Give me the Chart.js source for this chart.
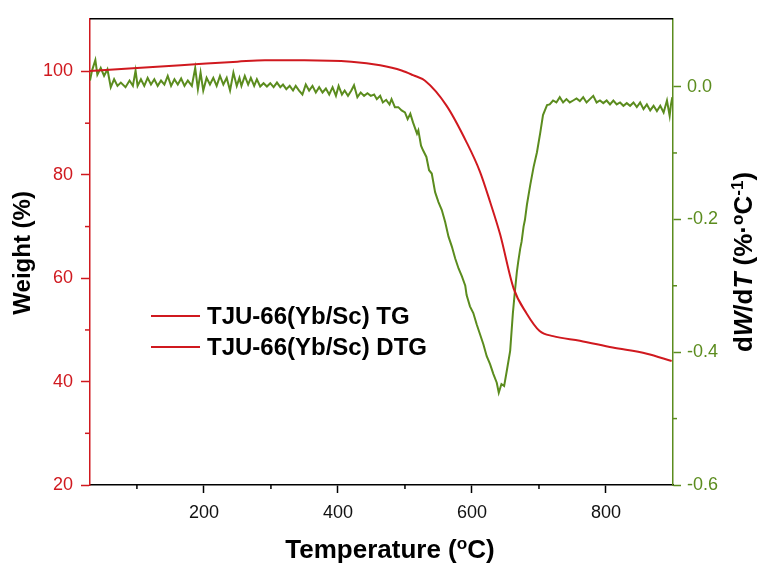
<!DOCTYPE html>
<html>
<head>
<meta charset="utf-8">
<script src="https://cdn.jsdelivr.net/npm/chart.js@4.4.1/dist/chart.umd.min.js"></script>
<style>
  html, body { margin: 0; padding: 0; background: #fff; }
</style>
</head>
<body>
<canvas id="myChart" width="759" height="565"></canvas>
<script>
// TG curve (weight %, left axis)
var tgTemp = [30, 100, 187, 250, 291, 350, 420, 463, 495, 512, 530, 562, 592, 612, 627, 642, 662, 682, 701, 721, 761, 810, 861, 898];
var tgWeight = [100.1, 100.7, 101.4, 101.9, 102.2, 102.2, 101.9, 101.2, 100.2, 99.3, 98.2, 93.4, 86.3, 80.6, 74.8, 68.5, 58.1, 53.1, 49.8, 48.8, 47.9, 46.6, 45.4, 44.0];

// DTG curve (dW/dT, right axis)
var dtgTemp = [
  30, 33, 38, 41, 46, 51, 56, 61, 66, 71,
  76, 83, 89, 94, 98, 101, 106, 111, 116, 121,
  126, 131, 136, 141, 146, 151, 156, 161, 166, 171,
  176, 182, 187, 191, 195, 199, 204, 209, 214, 219,
  224, 229, 234, 239, 244, 249, 253, 256, 261, 266,
  270, 275, 279, 284, 289, 294, 299, 304, 309, 314,
  318, 323, 328, 333, 337, 342, 347, 352, 357, 362,
  367, 372, 377, 382, 387, 392, 397, 401, 406, 410,
  415, 420, 424, 429, 434, 439, 444, 449, 454, 458,
  463, 467, 472, 477, 480, 485, 490, 495, 500, 504,
  508, 512, 518, 520, 524, 527, 532, 536, 540, 545,
  550, 555, 560, 565, 570, 575, 580, 585, 590, 592,
  597, 602, 607, 612, 617, 622, 627, 632, 637, 640,
  644, 648, 652, 657, 661, 664, 667, 669, 672, 674,
  677, 679, 682, 687, 692, 697, 702, 706, 712, 716,
  721, 726, 731, 736, 741, 746, 751, 756, 761, 766,
  771, 776, 781, 786, 791, 796, 801, 806, 811, 816,
  821, 826, 831, 836, 841, 846, 851, 856, 861, 866,
  871, 876, 881, 886, 891, 895, 897, 899
];
var dtgRate = [
  0.009, 0.024, 0.040, 0.018, 0.028, 0.016, 0.026, -0.001, 0.011, 0.001,
  0.006, -0.001, 0.009, 0.001, 0.024, 0.001, 0.011, 0.001, 0.013, 0.003,
  0.011, 0.001, 0.009, 0.003, 0.016, 0.001, 0.011, 0.003, 0.012, 0.001,
  0.009, 0.001, 0.028, -0.004, 0.021, -0.006, 0.013, 0.003, 0.013, 0.001,
  0.016, 0.003, 0.013, -0.006, 0.021, 0.001, 0.013, 0.001, 0.016, 0.003,
  0.013, 0.001, 0.011, 0.000, 0.005, 0.000, 0.005, -0.001, 0.006, -0.001,
  0.003, -0.004, 0.001, -0.006, 0.001, -0.006, -0.012, 0.003, -0.006, 0.001,
  -0.009, -0.001, -0.009, -0.003, -0.012, -0.001, -0.014, 0.001, -0.012, -0.006,
  -0.014, -0.006, 0.002, -0.016, -0.009, -0.014, -0.010, -0.014, -0.012, -0.019,
  -0.014, -0.024, -0.020, -0.027, -0.019, -0.031, -0.031, -0.036, -0.039, -0.049,
  -0.041, -0.054, -0.071, -0.066, -0.089, -0.096, -0.106, -0.126, -0.131, -0.159,
  -0.174, -0.186, -0.204, -0.226, -0.241, -0.259, -0.274, -0.286, -0.300, -0.314,
  -0.331, -0.341, -0.358, -0.373, -0.388, -0.406, -0.418, -0.433, -0.446, -0.461,
  -0.448, -0.451, -0.428, -0.398, -0.342, -0.309, -0.279, -0.264, -0.244, -0.234,
  -0.211, -0.201, -0.178, -0.148, -0.121, -0.099, -0.069, -0.043, -0.028, -0.027,
  -0.021, -0.024, -0.016, -0.024, -0.019, -0.024, -0.021, -0.018, -0.022, -0.016,
  -0.024, -0.019, -0.014, -0.024, -0.021, -0.025, -0.021, -0.027, -0.021, -0.027,
  -0.024, -0.029, -0.025, -0.029, -0.024, -0.031, -0.024, -0.034, -0.027, -0.036,
  -0.029, -0.037, -0.029, -0.039, -0.021, -0.044, -0.027, -0.016
];

// tick positions
var tempTicks = [200, 400, 600, 800];
var tempMinor = [100, 300, 500, 700];
var weightTicks = [20, 40, 60, 80, 100];
var weightMinor = [30, 50, 70, 90];
var dtgTicks = [-0.6, -0.4, -0.2, 0.0];
var dtgMinor = [-0.5, -0.3, -0.1];

var seriesNames = ['TJU-66(Yb/Sc) TG', 'TJU-66(Yb/Sc) DTG'];

var red = '#d0191f';
var green = '#5b8c1e';
var font = '"Liberation Sans", Arial, sans-serif';

function useTicks(values) {
  return function (scale) {
    scale.ticks = values.map(function (v) { return { value: v }; });
  };
}

function tick(ctx, x1, y1, x2, y2) {
  ctx.beginPath();
  ctx.moveTo(x1, y1);
  ctx.lineTo(x2, y2);
  ctx.stroke();
}

// short ticks between the labelled ones, plus the top frame line
var frame = {
  id: 'frame',
  afterDraw: function (chart) {
    var ctx = chart.ctx, a = chart.chartArea, s = chart.scales;
    ctx.save();
    ctx.lineWidth = 1.5;
    ctx.strokeStyle = '#000';
    tick(ctx, a.left, a.top, a.right, a.top);
    tempMinor.forEach(function (v) {
      var x = s.x.getPixelForValue(v);
      tick(ctx, x, a.bottom, x, a.bottom + 4);
    });
    ctx.strokeStyle = red;
    weightMinor.forEach(function (v) {
      var y = s.y.getPixelForValue(v);
      tick(ctx, a.left, y, a.left - 5, y);
    });
    ctx.strokeStyle = green;
    dtgMinor.forEach(function (v) {
      var y = s.y2.getPixelForValue(v);
      tick(ctx, a.right, y, a.right + 4, y);
    });
    ctx.restore();
  }
};

// text made of pieces: italic letters and superscripts
function drawPieces(ctx, pieces, size, cx, cy) {
  var total = 0;
  pieces.forEach(function (p) {
    ctx.font = (p.it ? 'italic ' : '') + 'bold ' + (p.sup ? size * 0.66 : size) + 'px ' + font;
    p.w = ctx.measureText(p.t).width;
    total += p.w;
  });
  var x = cx - total / 2;
  pieces.forEach(function (p) {
    ctx.font = (p.it ? 'italic ' : '') + 'bold ' + (p.sup ? size * 0.66 : size) + 'px ' + font;
    ctx.fillText(p.t, x, p.sup ? cy - size * 0.36 : cy);
    x += p.w;
  });
}

var titles = {
  id: 'titles',
  afterDraw: function (chart) {
    var ctx = chart.ctx, a = chart.chartArea;
    ctx.save();
    ctx.fillStyle = '#000';
    ctx.textAlign = 'left';
    ctx.textBaseline = 'alphabetic';

    drawPieces(ctx, [{ t: 'Temperature (' }, { t: 'o', sup: true }, { t: 'C)' }], 26, 390, 558);

    ctx.save();
    ctx.translate(30, (a.top + a.bottom) / 2 + 1);
    ctx.rotate(-Math.PI / 2);
    drawPieces(ctx, [{ t: 'Weight (%)' }], 24, 0, 0);
    ctx.restore();

    ctx.save();
    ctx.translate(752, 262);
    ctx.rotate(-Math.PI / 2);
    drawPieces(ctx, [
      { t: 'd' }, { t: 'W', it: true }, { t: '/d' }, { t: 'T', it: true },
      { t: ' (%\u00b7' }, { t: 'o', sup: true }, { t: 'C' }, { t: '-1', sup: true }, { t: ')' }
    ], 26, 0, 0);
    ctx.restore();

    // legend
    ctx.font = 'bold 24px ' + font;
    ctx.textBaseline = 'middle';
    seriesNames.forEach(function (name, i) {
      var y = 316 + i * 31;
      ctx.strokeStyle = red;
      ctx.lineWidth = 2;
      tick(ctx, 151, y, 200, y);
      ctx.fillText(name, 207, y + 1);
    });
    ctx.restore();
  }
};

var ctx = document.getElementById('myChart');
var myChart = new Chart(ctx, {
  type: 'line',
  data: {
    datasets: [{
      label: seriesNames[0],
      data: tgTemp.map(function (t, i) { return { x: t, y: tgWeight[i] }; }),
      borderColor: red,
      borderWidth: 2,
      pointRadius: 0,
      cubicInterpolationMode: 'monotone',
      yAxisID: 'y'
    }, {
      label: seriesNames[1],
      data: dtgTemp.map(function (t, i) { return { x: t, y: dtgRate[i] }; }),
      borderColor: green,
      borderWidth: 2,
      pointRadius: 0,
      tension: 0,
      yAxisID: 'y2'
    }]
  },
  options: {
    responsive: false,
    animation: false,
    devicePixelRatio: 1,
    layout: { padding: { top: 16, left: 0, right: 0, bottom: 0 } },
    plugins: { legend: { display: false }, tooltip: { enabled: false } },
    scales: {
      x: {
        type: 'linear', position: 'bottom', min: 30, max: 900,
        afterBuildTicks: useTicks(tempTicks),
        afterFit: function (s) { s.height = 80; },
        grid: { drawOnChartArea: false, tickLength: 8, tickColor: '#000', tickWidth: 1.5 },
        border: { color: '#000', width: 1.5 },
        ticks: { color: '#111', font: { family: font, size: 18 }, padding: 9, maxRotation: 0, autoSkip: false }
      },
      y: {
        type: 'linear', position: 'left', min: 20, max: 110.2,
        afterBuildTicks: useTicks(weightTicks),
        afterFit: function (s) { s.width = 90; },
        grid: { drawOnChartArea: false, tickLength: 9, tickColor: red, tickWidth: 1.5 },
        border: { color: red, width: 1.5 },
        ticks: { color: red, font: { family: font, size: 18 }, padding: 8 }
      },
      y2: {
        type: 'linear', position: 'right', min: -0.6, max: 0.102,
        afterBuildTicks: useTicks(dtgTicks),
        afterFit: function (s) { s.width = 86; },
        grid: { drawOnChartArea: false, tickLength: 8, tickColor: green, tickWidth: 1.5 },
        border: { color: green, width: 1.5 },
        ticks: {
          color: green, font: { family: font, size: 18 }, padding: 6,
          callback: function (v) { return v.toFixed(1); }
        }
      }
    }
  },
  plugins: [frame, titles]
});
</script>
</body>
</html>
